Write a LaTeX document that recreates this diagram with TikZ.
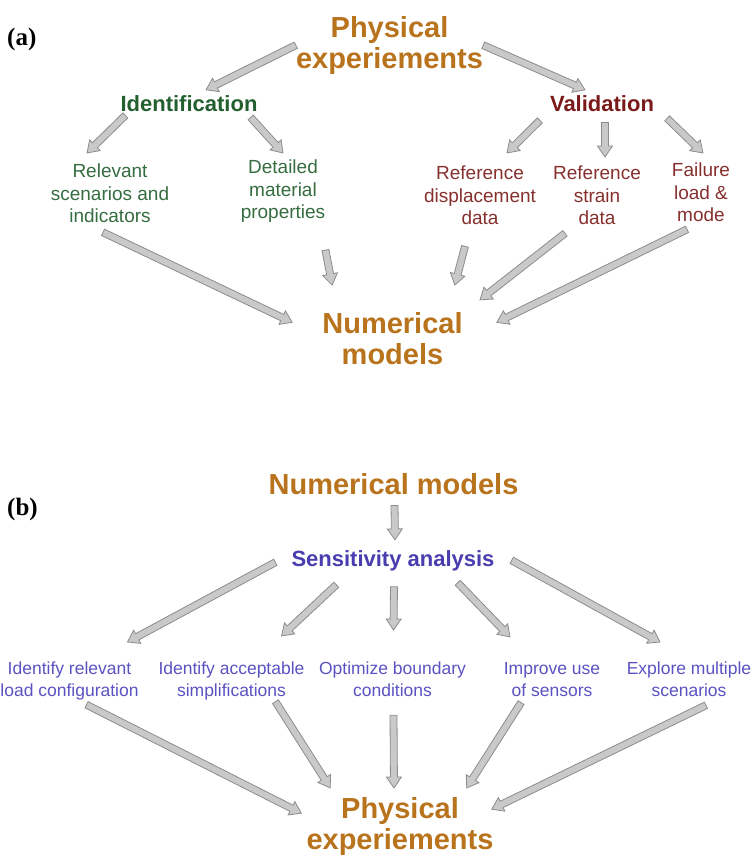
\documentclass[tikz,border=0pt]{standalone}
\usepackage{fontspec}
\setmainfont{Liberation Sans}
\newfontfamily\panelfont{Liberation Serif}
\usetikzlibrary{calc}

\definecolor{ochre}{HTML}{B8731C}
\definecolor{leaf}{HTML}{245F2F}
\definecolor{leaflight}{HTML}{356C40}
\definecolor{wine}{HTML}{7B1A1A}
\definecolor{winelight}{HTML}{86302E}
\definecolor{indigo}{HTML}{4A3DB0}
\definecolor{indigolight}{HTML}{5B52C2}
\definecolor{flowfill}{HTML}{C9C9C9}
\definecolor{flowedge}{HTML}{8C8C8C}

\begin{document}
\begin{tikzpicture}[x=1pt, y=-1pt,
    panel/.style={font=\panelfont\bfseries\fontsize{25}{28}\selectfont, inner sep=0pt},
    title/.style={font=\bfseries\fontsize{29}{31}\selectfont, text=ochre, align=center, inner sep=0pt},
    identhead/.style={font=\bfseries\fontsize{22}{26}\selectfont, text=leaf, inner sep=0pt},
    identtext/.style={font=\fontsize{19}{22.5}\selectfont, text=leaflight, align=center, inner sep=0pt},
    validhead/.style={font=\bfseries\fontsize{22}{26}\selectfont, text=wine, inner sep=0pt},
    validtext/.style={font=\fontsize{19}{22.5}\selectfont, text=winelight, align=center, inner sep=0pt},
    senshead/.style={font=\bfseries\fontsize{22}{26}\selectfont, text=indigo, inner sep=0pt},
    senstext/.style={font=\fontsize{17.5}{22}\selectfont, text=indigolight, align=center, inner sep=0pt},
    flow/.style={draw=flowedge, fill=flowfill, line width=0.8pt, line join=miter,
      to path={let \p1=(\tikztostart), \p2=(\tikztotarget),
                   \n1={atan2(\y2-\y1,\x2-\x1)}, \n2={veclen(\x2-\x1,\y2-\y1)} in
        {[shift={(\p1)}, rotate=\n1]
          (0,-\shaft) -- (\n2-\headlen,-\shaft) -- (\n2-\headlen,-\headwid) -- (\n2,0)
          -- (\n2-\headlen,\headwid) -- (\n2-\headlen,\shaft) -- (0,\shaft) -- cycle}}}]
  \def\shaft{3.5}
  \def\headwid{7.5}
  \def\headlen{11}

  \useasboundingbox (0,0) rectangle (755,856);

  % ---- (a) experiments feed the models
  \node[panel, anchor=base west] (tagA) at (7,46) {(a)};
  \node[title, anchor=north] (phys) at (389.5,16) {Physical\\experiements};
  \node[identhead, anchor=base] (ident) at (189,112) {Identification};
  \node[validhead, anchor=base] (valid) at (602,112) {Validation};

  \node[identtext, anchor=north] (relev) at (110,164) {Relevant\\scenarios and\\indicators};
  \node[identtext, anchor=north] (detail) at (283,160) {Detailed\\material\\properties};
  \node[validtext, anchor=north] (refdisp) at (480,166) {Reference\\displacement\\data};
  \node[validtext, anchor=north] (refstrain) at (597,166) {Reference\\strain\\data};
  \node[validtext, anchor=north] (failure) at (701,163) {Failure\\load \&\\mode};

  \node[title, anchor=north] (nummod) at (392.5,312) {Numerical\\models};

  \draw[flow] (phys.west) to ([xshift=17pt,yshift=6pt]ident.north);
  \draw[flow] (phys.east) to ([xshift=-17pt,yshift=6pt]valid.north);
  \draw[flow] ([xshift=5pt,yshift=-3pt]ident.south west) to ([xshift=-23pt,yshift=11pt]relev.north);
  \draw[flow] ([xshift=-7pt,yshift=-5pt]ident.south east) to ([yshift=7pt]detail.north);
  \draw[flow] ([xshift=-10pt,yshift=-8pt]valid.south west) to ([xshift=27pt,yshift=13pt]refdisp.north);
  \draw[flow] ([xshift=3pt,yshift=-10pt]valid.south) to ([xshift=8pt,yshift=9pt]refstrain.north);
  \draw[flow] ([xshift=13pt,yshift=-6pt]valid.south east) to ([xshift=2pt,yshift=10pt]failure.north);

  \draw[flow] ([xshift=-7pt,yshift=-9pt]relev.south) to ([xshift=-30pt,yshift=16pt]nummod.west);
  \draw[flow] ([yshift=-27pt]detail.south east) to ([xshift=10pt,yshift=27pt]nummod.north west);
  \draw[flow] ([xshift=-15pt,yshift=-21pt]refdisp.south) to ([xshift=-8pt,yshift=27pt]nummod.north east);
  \draw[flow] ([xshift=12pt,yshift=-8pt]refstrain.south west) to ([xshift=17pt,yshift=12pt]nummod.north east);
  \draw[flow] ([xshift=-14pt,yshift=-7pt]failure.south) to ([xshift=34pt,yshift=16pt]nummod.east);

  % ---- (b) models guide the experiments
  \node[panel, anchor=base west] (tagB) at (7,515) {(b)};
  \node[title, anchor=base] (numb) at (393.5,494) {Numerical models};
  \node[senshead, anchor=base] (sens) at (393,566) {Sensitivity analysis};

  \node[senstext, anchor=north] (loadcfg) at (69.5,662) {Identify relevant\\load configuration};
  \node[senstext, anchor=north] (simpl) at (231.5,662) {Identify acceptable\\simplifications};
  \node[senstext, anchor=north] (bound) at (392.5,662) {Optimize boundary\\conditions};
  \node[senstext, anchor=north] (sensors) at (552,662) {Improve use\\of sensors};
  \node[senstext, anchor=north] (scen) at (689,662) {Explore multiple\\scenarios};

  \node[title, anchor=north] (physb) at (400,797) {Physical\\experiements};

  \draw[flow] ([xshift=1pt,yshift=-11pt]numb.south) to ([xshift=2pt,yshift=10pt]sens.north);

  \draw[flow] ([xshift=-16pt,yshift=-2pt]sens.west) to ([xshift=58pt,yshift=20pt]loadcfg.north);
  \draw[flow] ([xshift=45pt,yshift=-14pt]sens.south west) to ([xshift=50pt,yshift=26pt]simpl.north);
  \draw[flow] ([xshift=1pt,yshift=-16pt]sens.south) to ([xshift=1pt,yshift=32pt]bound.north);
  \draw[flow] ([xshift=-37pt,yshift=-12pt]sens.south east) to ([xshift=-42pt,yshift=25pt]sensors.north);
  \draw[flow] ([xshift=17pt]sens.east) to ([xshift=-29pt,yshift=20pt]scen.north);

  \draw[flow] ([xshift=17pt,yshift=-4pt]loadcfg.south) to ([xshift=-5pt,yshift=13pt]physb.west);
  \draw[flow] ([xshift=44pt,yshift=-1pt]simpl.south) to ([xshift=24pt,yshift=9pt]physb.north west);
  \draw[flow] ([xshift=1pt,yshift=-18pt]bound.south) to ([xshift=-6pt,yshift=9pt]physb.north);
  \draw[flow] ([xshift=-31pt,yshift=-6pt]sensors.south) to ([xshift=-27pt,yshift=9pt]physb.north east);
  \draw[flow] ([xshift=17pt,yshift=-8pt]scen.south) to ([xshift=-2pt,yshift=17pt]physb.east);
\end{tikzpicture}
\end{document}
